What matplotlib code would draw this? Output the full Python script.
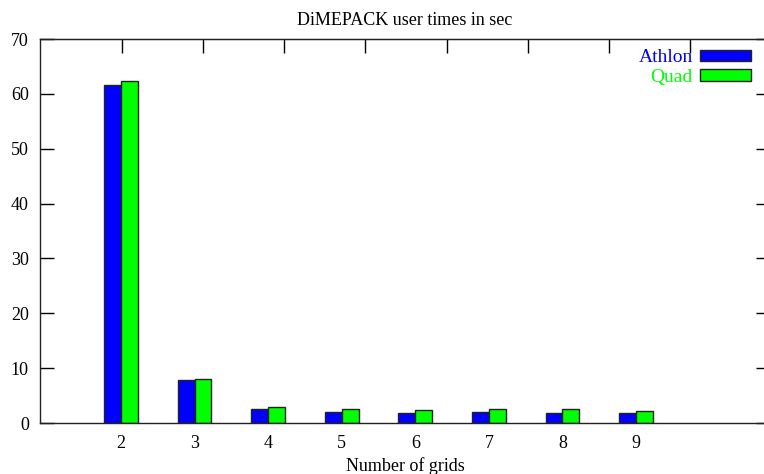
import matplotlib
matplotlib.use('Agg')
import matplotlib.pyplot as plt

# datos
grids = [2, 3, 4, 5, 6, 7, 8, 9]
athlon = [61.6, 7.9, 2.5, 2.0, 1.9, 2.0, 1.9, 1.9]
quad = [62.3, 8.1, 2.9, 2.5, 2.4, 2.5, 2.5, 2.2]
series = ['Athlon', 'Quad']
colores = ['#0000ff', '#00ff00']

plt.rcParams['font.family'] = ['Liberation Serif', 'DejaVu Serif']

fig = plt.figure(figsize=(7.64, 4.74), dpi=100)
ax = fig.add_axes([40 / 764, 51 / 474, 730 / 764, 384 / 474])

ancho = 0.23
xa = [g - ancho / 2 for g in grids]
xq = [g + ancho / 2 for g in grids]
ax.bar(xa, athlon, width=ancho, color=colores[0], edgecolor='#222222',
       linewidth=1.0, label=series[0])
ax.bar(xq, quad, width=ancho, color=colores[1], edgecolor='#222222',
       linewidth=1.0, label=series[1])

ax.set_xlim(0.9, 10.82)
ax.set_ylim(0, 70)
ax.set_yticks(range(0, 71, 10))
ax.set_xticks(grids)

ax.tick_params(axis='y', direction='in', length=10, width=1, right=True,
               labelsize=13, pad=8)
ax.tick_params(axis='x', direction='in', length=0, labelsize=13, pad=9)

# ticks espejo arriba (como en gnuplot)
top = ax.secondary_xaxis('top')
top.set_xticks([2.01 + k * 1.104 for k in range(8)])
top.set_xticklabels([])
top.tick_params(direction='in', length=10, width=1)

for s in ax.spines.values():
    s.set_linewidth(1.0)
    s.set_color('#222222')

ax.set_title('DiMEPACK user times in sec', fontsize=13, pad=10)
ax.set_xlabel('Number of grids', fontsize=13, labelpad=3)

leg = ax.legend(loc='upper right', bbox_to_anchor=(751 / 764, 425 / 474),
                bbox_transform=fig.transFigure, frameon=False,
                markerfirst=False, fontsize=14, handlelength=2.6,
                handleheight=0.5, handletextpad=0.4, labelspacing=0.15,
                borderpad=0, borderaxespad=0)
for txt, c in zip(leg.get_texts(), colores):
    txt.set_color(c)

plt.savefig('out.png', dpi=100)
